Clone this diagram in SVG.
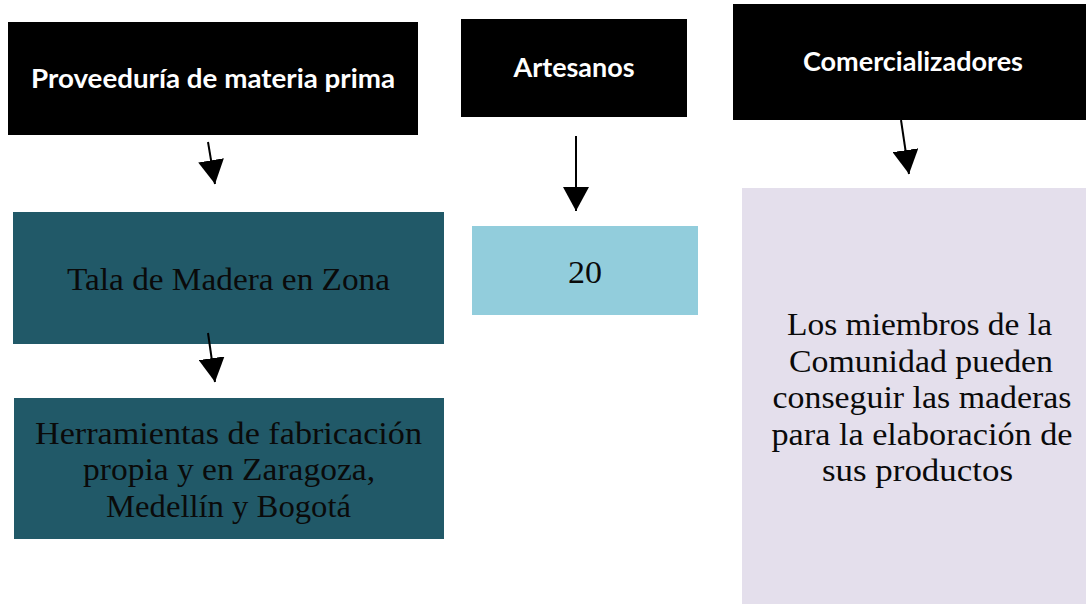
<svg xmlns="http://www.w3.org/2000/svg" width="1086" height="604" viewBox="0 0 1086 604">
  <defs>
    <marker id="ah" markerUnits="userSpaceOnUse" markerWidth="25" markerHeight="26" refX="24" refY="13" orient="auto">
      <path d="M0,0 L24,13 L0,26 z" fill="#000"/>
    </marker>
    <style>
      .hdr { fill: #000; }
      .hdrt { font-family: Lato, "Liberation Sans", sans-serif; font-weight: bold; font-size: 27px; fill: #fff; text-anchor: middle; }
      .teal { fill: #215968; }
      .blue { fill: #92CDDC; }
      .lav { fill: #E4DFEC; }
      .body { font-family: "Liberation Serif", "DejaVu Serif", serif; font-size: 32.5px; fill: #0a0a0a; text-anchor: middle; }
      .conn line { stroke: #000; stroke-width: 2; marker-end: url(#ah); }
    </style>
  </defs>
  <rect width="1086" height="604" fill="#fff"/>

  <g id="proveeduria">
    <rect class="hdr" x="8" y="22" width="410" height="113"/>
    <text class="hdrt" x="213" y="88" textLength="364" lengthAdjust="spacingAndGlyphs">Proveeduría de materia prima</text>
  </g>
  <g id="artesanos">
    <rect class="hdr" x="461" y="19" width="226" height="98"/>
    <text class="hdrt" x="574" y="77" textLength="121" lengthAdjust="spacingAndGlyphs">Artesanos</text>
  </g>
  <g id="comercializadores">
    <rect class="hdr" x="733" y="4" width="360" height="116"/>
    <text class="hdrt" x="913" y="71" textLength="220" lengthAdjust="spacingAndGlyphs">Comercializadores</text>
  </g>

  <g id="tala">
    <rect class="teal" x="13" y="212" width="431" height="132"/>
    <text class="body" x="228.5" y="290" textLength="323" lengthAdjust="spacingAndGlyphs">Tala de Madera en Zona</text>
  </g>
  <g id="herramientas">
    <rect class="teal" x="14" y="398" width="430" height="141"/>
    <text class="body" x="228.5" y="444" textLength="387" lengthAdjust="spacingAndGlyphs">Herramientas de fabricación</text>
    <text class="body" x="229" y="480" textLength="292" lengthAdjust="spacingAndGlyphs">propia y en Zaragoza,</text>
    <text class="body" x="228.5" y="517" textLength="245" lengthAdjust="spacingAndGlyphs">Medellín y Bogotá</text>
  </g>
  <g id="veinte">
    <rect class="blue" x="472" y="226" width="226" height="89"/>
    <text class="body" x="585" y="283" textLength="34" lengthAdjust="spacingAndGlyphs">20</text>
  </g>
  <g id="miembros">
    <rect class="lav" x="742" y="188" width="354" height="420"/>
    <text class="body" x="919.5" y="335" textLength="265" lengthAdjust="spacingAndGlyphs">Los miembros de la</text>
    <text class="body" x="921" y="372" textLength="264" lengthAdjust="spacingAndGlyphs">Comunidad pueden</text>
    <text class="body" x="922" y="408" textLength="299" lengthAdjust="spacingAndGlyphs">conseguir las maderas</text>
    <text class="body" x="922" y="445" textLength="301" lengthAdjust="spacingAndGlyphs">para la elaboración de</text>
    <text class="body" x="917.5" y="481" textLength="191" lengthAdjust="spacingAndGlyphs">sus productos</text>
  </g>

  <g id="connectors" class="conn">
    <line x1="208" y1="142" x2="215" y2="184"/>
    <line x1="208" y1="333" x2="215" y2="382"/>
    <line x1="576" y1="136" x2="576" y2="211"/>
    <line x1="901" y1="120" x2="909" y2="174"/>
  </g>
</svg>
